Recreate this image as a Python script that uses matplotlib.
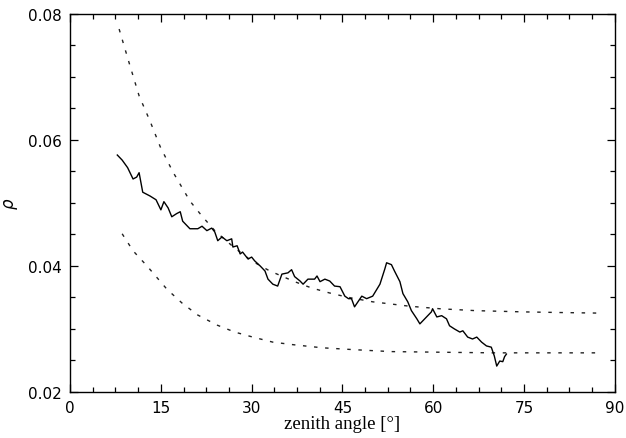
import matplotlib
matplotlib.use("Agg")
import matplotlib.pyplot as plt
from matplotlib.ticker import MultipleLocator, AutoMinorLocator

zenith = [7.8, 8.6, 9.5, 10.4, 11.0, 11.4, 12.0, 13.2, 14.2, 15.0, 15.5, 16.2, 16.8,
          17.6, 18.2, 18.6, 19.8, 21.1, 21.8, 22.6, 23.4, 23.9, 24.4, 25.1, 25.9,
          26.7, 26.9, 27.6, 28.1, 28.5, 29.4, 30.0, 30.5, 31.4, 32.2, 32.7, 33.5,
          34.3, 35.0, 36.0, 36.6, 37.1, 38.0, 38.5, 39.3, 40.4, 40.8, 41.3, 42.1,
          42.9, 43.7, 44.6, 45.4, 46.0, 46.5, 47.0, 48.2, 49.0, 50.0, 51.2, 52.0,
          52.3, 53.1, 53.6, 54.5, 55.0, 55.8, 56.4, 57.3, 57.8, 58.9, 59.7, 59.9,
          60.6, 61.4, 62.2, 62.7, 63.5, 64.4, 64.9, 65.7, 66.5, 67.2, 68.0, 68.8,
          69.6, 70.1, 70.5, 71.0, 71.5, 71.8, 72.1]
rho = [0.0576, 0.0568, 0.0556, 0.0538, 0.0541, 0.0548, 0.0517, 0.0511, 0.0505,
       0.0489, 0.0502, 0.0492, 0.0478, 0.0483, 0.0486, 0.0471, 0.0459, 0.0459,
       0.0463, 0.0456, 0.0460, 0.0454, 0.0440, 0.0446, 0.0440, 0.0443, 0.0430,
       0.0432, 0.0419, 0.0422, 0.0411, 0.0414, 0.0408, 0.0400, 0.0392, 0.0379,
       0.0371, 0.0368, 0.0387, 0.0389, 0.0394, 0.0383, 0.0376, 0.0371, 0.0379,
       0.0379, 0.0384, 0.0375, 0.0379, 0.0376, 0.0368, 0.0367, 0.0352, 0.0348,
       0.0348, 0.0335, 0.0352, 0.0348, 0.0352, 0.0371, 0.0395, 0.0405, 0.0402,
       0.0392, 0.0375, 0.0356, 0.0343, 0.0329, 0.0316, 0.0308, 0.0319, 0.0327,
       0.0332, 0.0319, 0.0321, 0.0316, 0.0305, 0.0300, 0.0295, 0.0297, 0.0287,
       0.0284, 0.0287, 0.0279, 0.0273, 0.0271, 0.0257, 0.0241, 0.0249, 0.0248,
       0.0256, 0.0260]

# upper model curve
upper_x = [8.1, 9.7, 11.4, 13.2, 14.9, 17.0, 19.8, 21.8, 24.0, 27.0, 30.0, 33.0,
           37.1, 39.9, 42.9, 46.0, 50.0, 56.1, 61.1, 67.0, 75.0, 81.0, 88.0]
upper_rho = [0.0776, 0.0724, 0.0670, 0.0630, 0.0589, 0.0549, 0.0503, 0.0479,
             0.0455, 0.0430, 0.0408, 0.0392, 0.0375, 0.0365, 0.0357, 0.0350,
             0.0343, 0.0336, 0.0332, 0.0329, 0.0327, 0.0326, 0.0325]

# lower model curve
lower_x = [8.6, 10.4, 12.7, 16.0, 18.5, 21.1, 24.3, 27.2, 30.2, 33.5, 36.8, 41.7,
           47.0, 53.0, 61.1, 70.0, 80.0, 88.0]
lower_rho = [0.0451, 0.0424, 0.0400, 0.0363, 0.0341, 0.0322, 0.0306, 0.0295,
             0.0287, 0.0279, 0.0275, 0.0270, 0.0267, 0.0264, 0.0263, 0.0262,
             0.0262, 0.0262]

plt.rcParams['font.family'] = ['DejaVu Sans']

fig = plt.figure(figsize=(6.26, 4.39), dpi=100)
ax = fig.add_axes([0.112, 0.105, 0.87, 0.861])

ax.plot(upper_x, upper_rho, color='#222222', lw=1.0, linestyle=(0, (2.5, 5.5)))
ax.plot(lower_x, lower_rho, color='#222222', lw=1.0, linestyle=(0, (2.5, 5.5)))
ax.plot(zenith, rho, color='black', lw=1.0)

ax.set_xlim(0, 90)
ax.set_ylim(0.02, 0.08)
ax.xaxis.set_major_locator(MultipleLocator(15))
ax.xaxis.set_minor_locator(AutoMinorLocator(4))
ax.yaxis.set_major_locator(MultipleLocator(0.02))
ax.yaxis.set_minor_locator(AutoMinorLocator(4))
ax.tick_params(which='both', direction='in', top=True, right=True,
               labelsize=11, width=0.9)
ax.tick_params(which='major', length=6)
ax.tick_params(which='minor', length=3.5)
ax.tick_params(axis='x', pad=6)
ax.tick_params(axis='y', pad=6)
ax.set_yticks([0.02, 0.04, 0.06, 0.08])
ax.set_yticklabels(['0.02', '0.04', '0.06', '0.08'])
for s in ax.spines.values():
    s.set_linewidth(1.0)

ax.set_xlabel('zenith angle [°]', family=['Liberation Serif', 'DejaVu Serif'],
              fontsize=13.5, labelpad=0)
ax.set_ylabel(r'$\rho$', fontsize=12, labelpad=6)

fig.savefig('out.png', dpi=100)
